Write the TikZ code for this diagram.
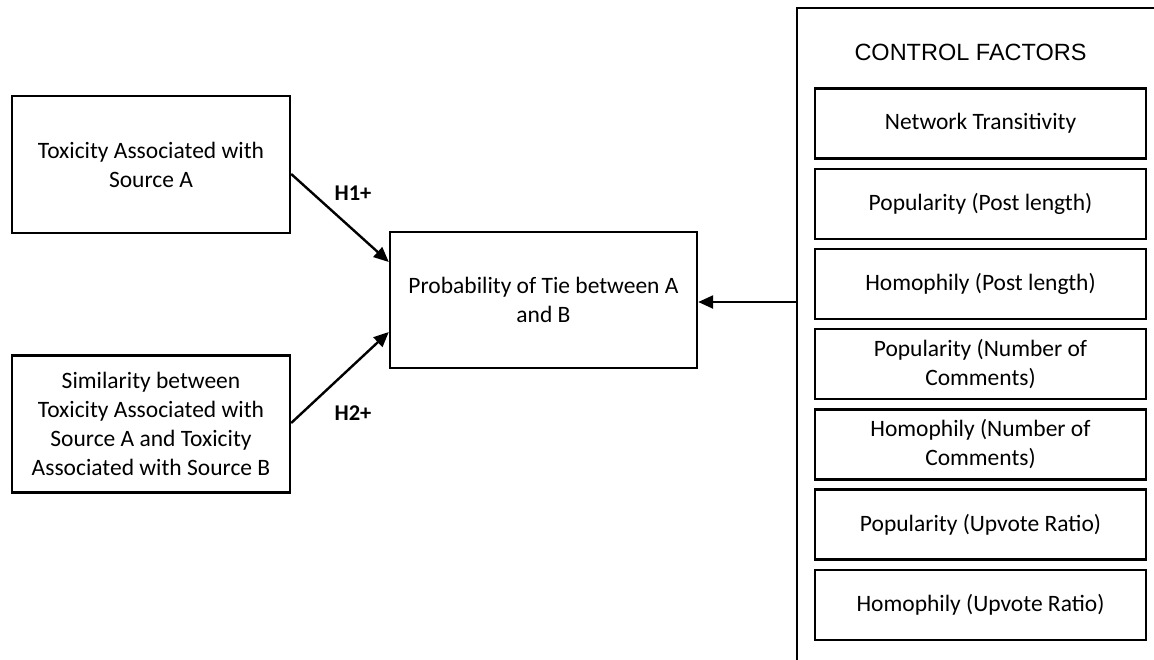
\documentclass[tikz,border=0pt]{standalone}
\usepackage{fontspec}
\setmainfont{Carlito}
\newfontfamily\arialf{Liberation Sans}
\usetikzlibrary{arrows.meta}
\begin{document}
\begin{tikzpicture}[x=1pt,y=-1pt,
  every node/.style={font=\fontsize{23.5}{29}\selectfont, align=center},
  box/.style={draw, line width=2.4pt, inner sep=0pt},
  leftbox/.style={box, minimum width=278pt, minimum height=137pt},
  ctrl/.style={box, minimum width=331pt, minimum height=70pt},
  arr/.style={line width=2.4pt, -{Triangle[length=15pt,width=13pt]}},
  hlab/.style={font=\fontsize{22.5}{27}\selectfont\bfseries}
]
\useasboundingbox (0,0) rectangle (1154,659);
\clip (0,0) rectangle (1154,659);
\fill[white] (0,0) rectangle (1154,659);

\node[leftbox] (A) at (151,164.5) {Toxicity Associated with\\Source A};
\node[leftbox] (B) at (151,424) {Similarity between\\Toxicity Associated with\\Source A and Toxicity\\Associated with Source B};
\node[box, minimum width=307pt, minimum height=136pt] (mid) at (543.5,300) {Probability of Tie between A\\and B};

\node[box, minimum width=373pt, minimum height=672pt] (outer) at (983.5,344) {};
\node[font=\arialf\fontsize{23.5}{28}\selectfont, anchor=base] (title) at (970.5,60) {CONTROL FACTORS};

\node[ctrl] (c1) at (980.5,123.5) {Network Transitivity};
\node[ctrl] (c2) at (980.5,203.7) {Popularity (Post length)};
\node[ctrl] (c3) at (980.5,283.9) {Homophily (Post length)};
\node[ctrl] (c4) at (980.5,364.1) {Popularity (Number of\\Comments)};
\node[ctrl] (c5) at (980.5,444.3) {Homophily (Number of\\Comments)};
\node[ctrl] (c6) at (980.5,524.5) {Popularity (Upvote Ratio)};
\node[ctrl] (c7) at (980.5,604.7) {Homophily (Upvote Ratio)};

\coordinate (midin) at ([yshift=-2pt]mid.east);
\draw[arr] ([yshift=-9.5pt]A.east) -- ([yshift=38pt]mid.west);
\draw[arr] ([yshift=1pt]B.east) -- ([yshift=-32pt]mid.west);
\draw[arr] (outer.west |- midin) -- (midin);

\node[hlab] (h1) at (353,193) {H1+};
\node[hlab] (h2) at (353,413) {H2+};
\end{tikzpicture}
\end{document}
